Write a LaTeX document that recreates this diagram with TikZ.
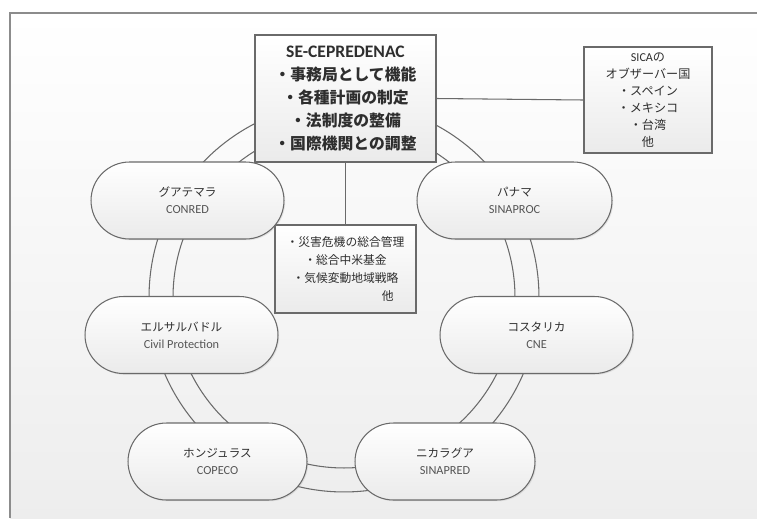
\documentclass[tikz,border=0pt]{standalone}
\usepackage{fontspec}
\setmainfont{Carlito}
\newfontfamily\jp{Noto Sans CJK JP}
\usepackage{tikz}
\usetikzlibrary{shadows}
\definecolor{linegray}{HTML}{6A6A6A}
\definecolor{framegray}{HTML}{8C8C8C}
\definecolor{textgray}{HTML}{2E2E2E}
\definecolor{engray}{HTML}{555555}

\begin{document}
\begin{tikzpicture}[x=0.02cm, y=-0.02cm,
    box/.style={draw=linegray, line width=0.6pt, top color=white, bottom color=black!8,
        drop shadow={opacity=0.18, shadow xshift=0.7pt, shadow yshift=-0.7pt},
        align=center, text=textgray, inner sep=2pt},
    pill/.style={box, rounded corners=0.77cm, minimum height=1.54cm,
        font=\fontsize{6.6}{9.6}\selectfont},
    ring/.style={draw=linegray, line width=0.6pt}]
    \useasboundingbox (0,0) rectangle (757,518);
    \fill[white] (0,0) rectangle (757,518);
    \shade[top color=white, bottom color=black!7] (10,13) rectangle (757,518);
    \draw[framegray, line width=1.1pt] (757,13) -- (10,13) -- (10,518);

    \draw[ring] (344,297) circle (3.9cm);
    \draw[ring] (344,297) circle (3.42cm);

    \node[box, minimum width=3.62cm, minimum height=2.54cm,
        font=\jp\bfseries\fontsize{9}{13}\selectfont] (sec) at (345.5,98.5)
        {{\rmfamily\fontsize{10}{13}\selectfont SE-CEPREDENAC}\\・事務局として機能\\・各種計画の制定\\・法制度の整備\\・国際機関との調整};

    \node[box, minimum width=2.56cm, minimum height=2.12cm,
        font=\jp\fontsize{6.9}{9.6}\selectfont] (sica) at (648,100)
        {{\rmfamily SICA}の\\オブザーバー国\\・スペイン\\・メキシコ\\・台湾\\他};

    \node[box, minimum width=2.82cm, minimum height=1.76cm,
        font=\jp\fontsize{6.7}{10.2}\selectfont] (mid) at (345.5,269)
        {・災害危機の総合管理\\・総合中米基金\\・気候変動地域戦略\\\hspace*{7.2em}他};

    \foreach \cname/\px/\py/\w/\ja/\en in {
        guat/187.5/200.5/3.86/グアテマラ/CONRED,
        elsal/181.5/335/3.86/エルサルバドル/Civil Protection,
        hond/217.5/461.5/3.58/ホンジュラス/COPECO,
        nica/445/461.5/3.6/ニカラグア/SINAPRED,
        pana/514.5/200.5/3.9/パナマ/SINAPROC,
        costa/536.5/335/3.86/コスタリカ/CNE} {
        \node[pill, minimum width=\w cm] (\cname) at (\px,\py)
            {{\jp\ja}\\{\color{engray}\fontsize{7}{9.6}\selectfont\en}};
    }

    \draw[ring] (sec.east) -- (sica.west);
    \draw[ring] (sec.south) -- (mid.north);
\end{tikzpicture}
\end{document}
